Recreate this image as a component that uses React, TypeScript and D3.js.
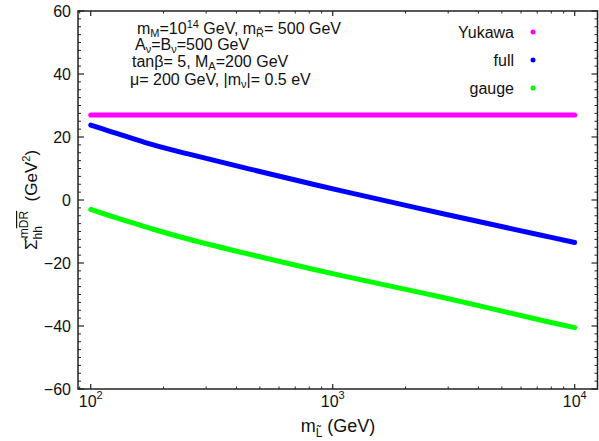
import React from 'react'
import * as d3 from 'd3'

// slepton mass (GeV) sample points
const MASSES = [100, 120, 140, 180, 250, 450, 1100, 2800, 7200, 10000]
const YUKAWA = [27, 27, 27, 27, 27, 27, 27, 27, 27, 27]
const FULL = [23.8, 21.8, 20.2, 17.6, 14.7, 9.9, 2.8, -4.2, -11.1, -13.5]
const GAUGE = [-3.0, -5.0, -6.6, -9.2, -12.3, -17.2, -24.1, -30.8, -38.1, -40.5]

const Y_TICKS = [-60, -40, -20, 0, 20, 40, 60]
const X_DECADES = [2, 3, 4]

const SERIES = [
  { name: 'Yukawa', values: YUKAWA, color: '#ff00ff' },
  { name: 'full', values: FULL, color: '#0000ff' },
  { name: 'gauge', values: GAUGE, color: '#00ff00' },
]

const W = 599
const H = 441
const left = 78, right = 597.5, top = 11, bottom = 389
const FONT = '"Liberation Sans", Arial, Helvetica, sans-serif'

export default function App() {
  const x = d3.scaleLog().domain([88.6, 12420]).range([left, right])
  const y = d3.scaleLinear().domain([-60, 60]).range([bottom, top])

  const line = d3.line<number>()
    .x((_, i) => x(MASSES[i]))
    .y(d => y(d))
    .curve(d3.curveCatmullRom.alpha(0.5))

  const minorY = d3.range(-60, 60.01, 2.5).filter(v => !Y_TICKS.includes(v))
  const minorX: number[] = []
  for (let e = 1; e <= 4; e++) {
    for (let k = 2; k <= 9; k++) {
      const v = k * Math.pow(10, e)
      if (v > x.domain()[0] && v < x.domain()[1]) minorX.push(v)
    }
  }

  const tickColor = '#222'

  return (
    <div style={{ position: 'absolute', left: 0, top: 0 }}>
      <svg width={W} height={H} style={{ display: 'block', fontFamily: FONT }}>
        <rect width={W} height={H} fill="#fff" />

        {/* data */}
        {SERIES.map(s => (
          <path key={s.name} d={line(s.values) || ''} fill="none" stroke={s.color}
            strokeWidth={5} strokeLinecap="round" strokeLinejoin="round" />
        ))}

        {/* frame */}
        <rect x={left} y={top} width={right - left} height={bottom - top}
          fill="none" stroke={tickColor} strokeWidth={1.5} />

        {/* y ticks */}
        {Y_TICKS.map(v => (
          <g key={'y' + v}>
            <line x1={left} x2={left + 6} y1={y(v)} y2={y(v)} stroke={tickColor} strokeWidth={1.2} />
            <line x1={right} x2={right - 6} y1={y(v)} y2={y(v)} stroke={tickColor} strokeWidth={1.2} />
            <text x={71} y={y(v)} dy="0.36em" textAnchor="end" fontSize={16} fill="#111">
              {v < 0 ? '\u2212' + Math.abs(v) : v}
            </text>
          </g>
        ))}
        {minorY.map(v => (
          <g key={'my' + v}>
            <line x1={left} x2={left + 3} y1={y(v)} y2={y(v)} stroke={tickColor} strokeWidth={1} />
            <line x1={right} x2={right - 3} y1={y(v)} y2={y(v)} stroke={tickColor} strokeWidth={1} />
          </g>
        ))}

        {/* x ticks */}
        {X_DECADES.map(e => {
          const px = x(Math.pow(10, e))
          return (
            <g key={'x' + e}>
              <line x1={px} x2={px} y1={bottom} y2={bottom - 5} stroke={tickColor} strokeWidth={1.2} />
              <line x1={px} x2={px} y1={top} y2={top + 5} stroke={tickColor} strokeWidth={1.2} />
              <text x={px} y={407} textAnchor="middle" fontSize={16} fill="#111">
                <tspan>10</tspan>
                <tspan fontSize={11} dy={-8}>{e}</tspan>
              </text>
            </g>
          )
        })}
        {minorX.map(v => (
          <g key={'mx' + v}>
            <line x1={x(v)} x2={x(v)} y1={bottom} y2={bottom - 2.5} stroke={tickColor} strokeWidth={1} />
            <line x1={x(v)} x2={x(v)} y1={top} y2={top + 2.5} stroke={tickColor} strokeWidth={1} />
          </g>
        ))}

        {/* axis titles */}
        <text x={338} y={432} textAnchor="middle" fontSize={18} fill="#111">
          <tspan>m</tspan>
          <tspan fontSize={12} dy={5}>{'L\u0303'}</tspan>
          <tspan dy={-5}> (GeV)</tspan>
        </text>
        <g transform="translate(37,200) rotate(-90)">
          <text textAnchor="middle" fontSize={17} fill="#111">
            <tspan>{'\u03A3\u0302'}</tspan>
            <tspan fontSize={12} dy={5}>hh</tspan>
            <tspan fontSize={12} dx={-12} dy={-14}>m</tspan>
            <tspan fontSize={12} textDecoration="overline">DR</tspan>
            <tspan dy={9}>{'\u00A0\u00A0(GeV'}</tspan>
            <tspan fontSize={11} dy={-7}>2</tspan>
            <tspan dy={7}>)</tspan>
          </text>
        </g>

        {/* parameter annotation */}
        <g fontSize={16} fill="#111">
          <text x={137} y={34}>
            <tspan>m</tspan><tspan fontSize={11} dy={3}>M</tspan>
            <tspan dy={-3}>=10</tspan><tspan fontSize={11} dy={-6}>14</tspan>
            <tspan dy={6}> GeV, m</tspan><tspan fontSize={11} dy={3}>{'R\u0303'}</tspan>
            <tspan dy={-3}>= 500 GeV</tspan>
          </text>
          <text x={135} y={50}>
            <tspan>A</tspan><tspan fontSize={11} dy={3}>{'\u03BD'}</tspan>
            <tspan dy={-3}>=B</tspan><tspan fontSize={11} dy={3}>{'\u03BD'}</tspan>
            <tspan dy={-3}>=500 GeV</tspan>
          </text>
          <text x={132} y={67}>
            <tspan>{'tan\u03B2= 5, M'}</tspan><tspan fontSize={11} dy={3}>A</tspan>
            <tspan dy={-3}>=200 GeV</tspan>
          </text>
          <text x={130} y={85}>
            <tspan>{'\u03BC= 200 GeV, |m'}</tspan><tspan fontSize={11} dy={3}>{'\u03BD'}</tspan>
            <tspan dy={-3}>|= 0.5 eV</tspan>
          </text>
        </g>

        {/* legend */}
        {SERIES.map((s, i) => (
          <g key={'lg' + s.name}>
            <text x={514} y={32 + i * 28} dy="0.36em" textAnchor="end" fontSize={16} fill="#111">{s.name}</text>
            <circle cx={533} cy={32 + i * 28} r={2.5} fill={s.color} />
          </g>
        ))}
      </svg>
    </div>
  )
}
